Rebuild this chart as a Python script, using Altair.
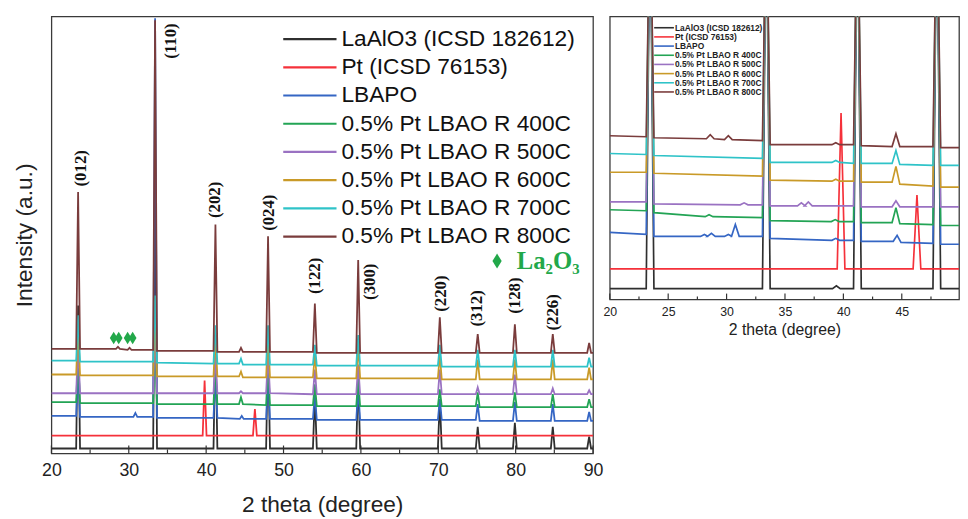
import altair as alt
import pandas as pd

# ---------------- series ----------------
SERIES = ["LaAlO3 (ICSD 182612)", "Pt (ICSD 76153)", "LBAPO",
          "0.5% Pt LBAO R 400C", "0.5% Pt LBAO R 500C", "0.5% Pt LBAO R 600C",
          "0.5% Pt LBAO R 700C", "0.5% Pt LBAO R 800C"]
COLORS = ["#2f2f2f", "#f5313a", "#3566c4", "#23a455", "#9a72c2", "#c99a28",
          "#2fc3c8", "#7a3c3c"]

# ---------- left panel (20-90 deg): peaks as (2theta, top, base_left, base_right) ----------
L_BLACK = [(23.45, 150, 5, 5), (33.4, 300, 5, 5), (41.2, 120, 5, 5), (48.0, 110, 5, 5),
           (54.05, 60, 5, 5), (59.65, 80, 5, 5), (70.2, 55, 5, 5), (75.1, 27, 5, 5),
           (79.9, 31, 5, 5), (84.8, 27, 5, 5), (89.5, 17, 5, 5)]
L_RED = [(39.8, 74, 18, 18), (46.3, 45, 18, 18)]
L_BLUE = [(23.45, 90, 38, 37), (30.85, 41, 37, 37), (33.4, 441, 37, 36), (41.2, 80, 36, 36),
          (44.6, 38, 35, 35), (48.0, 80, 35, 35), (54.05, 60, 35, 34), (59.65, 65, 34, 34),
          (70.2, 55, 34, 34), (75.1, 50, 34, 33), (79.9, 52, 33, 33), (84.8, 50, 33, 33),
          (89.5, 42, 33, 33)]
L_GREEN = [(23.45, 100, 52, 51), (33.4, 110, 51, 50), (41.2, 90, 50, 50), (44.5, 57, 50, 50),
           (48.0, 90, 49, 49), (54.05, 70, 49, 48), (59.65, 75, 48, 48), (70.2, 65, 48, 48),
           (75.1, 62, 48, 47), (79.9, 62, 47, 47), (84.8, 60, 47, 47), (89.5, 55, 47, 47)]
L_PURPLE = [(23.45, 110, 61, 61), (33.4, 130, 61, 61), (41.2, 100, 61, 61), (44.5, 63, 61, 61),
            (48.0, 100, 61, 61), (54.05, 85, 60, 60), (59.65, 90, 60, 60), (70.2, 85, 60, 60),
            (75.1, 67, 60, 60), (79.9, 80, 60, 60), (84.8, 66, 60, 60), (89.5, 64, 60, 60)]
L_GOLD = [(23.45, 130, 80, 79), (33.4, 150, 79, 78), (41.2, 120, 78, 78), (44.5, 83, 78, 77),
          (48.0, 120, 77, 77), (54.05, 100, 77, 76), (59.65, 110, 76, 76), (70.2, 100, 76, 75),
          (75.1, 95, 75, 75), (79.9, 95, 75, 75), (84.8, 95, 75, 75), (89.5, 87, 75, 75)]
L_CYAN = [(23.45, 140, 94, 93), (33.4, 160, 93, 92), (41.2, 130, 91, 91), (44.5, 96, 91, 90),
          (48.0, 130, 90, 90), (54.05, 110, 90, 89), (59.65, 120, 89, 89), (70.2, 110, 89, 88),
          (75.1, 105, 88, 88), (79.9, 105, 88, 88), (84.8, 105, 88, 88), (89.5, 97, 88, 88)]
L_BROWN = [(23.45, 265, 106, 106), (28.6, 108, 106, 106), (30.1, 107, 105, 105),
           (33.4, 439, 105, 104), (41.2, 232, 104, 103), (44.5, 107, 103, 103),
           (48.0, 220, 103, 103), (54.05, 152, 103, 102), (59.65, 196, 102, 102),
           (70.2, 138, 102, 102), (75.1, 121, 102, 102), (79.9, 131, 102, 102),
           (84.8, 121, 102, 102), (89.5, 112, 102, 102)]
L_ENDS = [(5, 5), (18, 18), (38, 33), (52, 47), (61, 60), (80, 75), (94, 88), (106, 102)]

# ---------- right panel (20-50 deg, zoomed) ----------
R_BLACK = [(23.45, 420, 11, 11), (33.4, 420, 11, 11), (39.4, 14, 11, 11), (41.2, 420, 11, 11),
           (48.0, 420, 11, 11)]
R_RED = [(39.8, 189, 31, 31), (46.3, 106, 31, 31)]
R_BLUE = [(23.45, 420, 66, 64), (28.1, 66, 64, 64), (28.7, 67, 64, 64), (30.15, 66, 64, 64),
          (30.75, 76, 64, 64), (33.4, 420, 64, 62), (39.35, 62, 60, 60), (41.2, 420, 60, 59),
          (44.6, 65, 59, 58), (48.0, 420, 57, 56)]
R_GREEN = [(23.45, 420, 90, 88), (28.5, 86, 84, 84), (33.4, 420, 83, 80), (39.3, 81, 79, 79),
           (41.2, 420, 79, 78), (44.5, 93, 78, 77), (48.0, 420, 76, 75)]
R_PURPLE = [(23.45, 420, 99, 97), (31.5, 98, 96, 96), (33.4, 420, 96, 95), (36.4, 98, 95, 95),
            (37.0, 99, 95, 95), (41.2, 420, 95, 94), (44.5, 100, 94, 94), (48.0, 420, 94, 94)]
R_GOLD = [(23.45, 420, 129, 128), (33.4, 420, 125, 121), (39.35, 122, 120, 120),
          (41.2, 420, 120, 119), (44.5, 135, 119, 117), (48.0, 420, 115, 114)]
R_CYAN = [(23.45, 420, 147, 146), (33.4, 420, 143, 139), (39.35, 141, 139, 139),
          (41.2, 420, 138, 138), (44.5, 151, 138, 137), (48.0, 420, 136, 136)]
R_BROWN = [(23.45, 420, 165, 164), (28.6, 167, 163, 163), (30.15, 166, 162, 162),
           (33.4, 420, 161, 157), (39.35, 159, 157, 157), (41.2, 420, 157, 156),
           (44.5, 168, 155, 155), (48.0, 420, 155, 154)]
R_ENDS = [(11, 11), (31, 31), (68, 56), (91, 75), (99, 94), (129, 114), (148, 136), (166, 154)]

# ---------- annotations ----------
HKL_TEXT = ["(012)", "(110)", "(202)", "(024)", "(122)", "(300)", "(220)", "(312)", "(128)", "(226)"]
HKL_X = [23.8, 35.45, 41.2, 48.1, 54.1, 61.25, 70.3, 75.0, 79.9, 84.9]
HKL_Y = [289, 418, 257, 244, 180, 174, 162, 147, 160, 143]
LA2O3_X = [28.05, 28.7, 29.85, 30.5]
LA2O3_Y = [117, 117, 117, 117]
LA2O3_KEY_X = [77.6]
LA2O3_KEY_Y = [195]
LA2O3_LABEL_X = [80.15]
LA2O3_LABEL = ["La\u2082O\u2083"]

L_TICK_MAJOR = [20, 30, 40, 50, 60, 70, 80, 90]
L_TICK_MINOR = [25, 35, 45, 55, 65, 75, 85]
R_TICK_MAJOR = [20, 25, 30, 35, 40, 45]
R_TICK_MINOR = [22.5, 27.5, 32.5, 37.5, 42.5, 47.5]

GREEN_ANN = "#22a84a"
AXIS_COL = "#333333"


def trace(peaks, ends, x0, x1, w):
    xs, ys = [x0], [ends[0]]
    for pos, top, bl, br in peaks:
        xs += [pos - w, pos, pos + w]
        ys += [bl, top, br]
    xs.append(x1)
    ys.append(ends[1])
    return pd.DataFrame({"x": xs, "y": ys, "i": list(range(len(xs)))})


def panel(peak_sets, ends, xdom, ydom, w, width, height, xaxis, yaxis,
          major, minor, major_len, minor_len, lw):
    xs = alt.Scale(domain=xdom, nice=False, zero=False)
    ys = alt.Scale(domain=ydom, nice=False, zero=False)
    layers = []
    for vals, ln in ((major, major_len), (minor, minor_len)):
        layers.append(
            alt.Chart(pd.DataFrame({"t": vals})).mark_rule(color=AXIS_COL, strokeWidth=1.2).encode(
                x=alt.X("t:Q", scale=xs, axis=xaxis),
                y=alt.value(height), y2=alt.value(height - ln)))
    for color, peaks, e in zip(COLORS, peak_sets, ends):
        layers.append(
            alt.Chart(trace(peaks, e, xdom[0], xdom[1], w)).mark_line(
                color=color, strokeWidth=lw, clip=True).encode(
                x=alt.X("x:Q", scale=xs, axis=xaxis),
                y=alt.Y("y:Q", scale=ys, axis=yaxis),
                order="i:Q"))
    return layers, xs, ys


# ---------------- left panel ----------------
LW, LH = 549, 443
x_ax_l = alt.Axis(values=L_TICK_MAJOR, title="2 theta (degree)", ticks=False, domain=False,
                  grid=False, labelFlush=False, labelFontSize=18, labelFont="Liberation Sans",
                  labelColor="#222", labelPadding=8, titleFontSize=23, titleFont="Liberation Sans",
                  titleFontWeight="normal", titleColor="#222", titlePadding=15)
y_ax_l = alt.Axis(title="Intensity (a.u.)", labels=False, ticks=False, domain=False, grid=False,
                  titleFontSize=23, titleFont="Liberation Sans", titleFontWeight="normal",
                  titleColor="#222", titlePadding=15)
left_layers, xsl, ysl = panel(
    [L_BLACK, L_RED, L_BLUE, L_GREEN, L_PURPLE, L_GOLD, L_CYAN, L_BROWN], L_ENDS,
    [20, 90], [0, LH], 0.25, LW, LH, x_ax_l, y_ax_l,
    L_TICK_MAJOR, L_TICK_MINOR, 8, 4, 1.8)

hkl = pd.DataFrame({"x": HKL_X, "y": HKL_Y, "t": HKL_TEXT})
left_layers.append(
    alt.Chart(hkl).mark_text(angle=270, font="Liberation Serif", fontWeight="bold", fontSize=17,
                             color="#111", align="center", baseline="middle").encode(
        x=alt.X("x:Q", scale=xsl, axis=x_ax_l), y=alt.Y("y:Q", scale=ysl, axis=y_ax_l), text="t:N"))

DIAMOND = "M0,-1L0.62,0L0,1L-0.62,0Z"
left_layers.append(
    alt.Chart(pd.DataFrame({"x": LA2O3_X, "y": LA2O3_Y})).mark_point(
        shape=DIAMOND, filled=True, size=160, color=GREEN_ANN, opacity=1).encode(
        x=alt.X("x:Q", scale=xsl, axis=x_ax_l), y=alt.Y("y:Q", scale=ysl, axis=y_ax_l)))
left_layers.append(
    alt.Chart(pd.DataFrame({"x": LA2O3_KEY_X, "y": LA2O3_KEY_Y})).mark_point(
        shape=DIAMOND, filled=True, size=230, color=GREEN_ANN, opacity=1).encode(
        x=alt.X("x:Q", scale=xsl, axis=x_ax_l), y=alt.Y("y:Q", scale=ysl, axis=y_ax_l)))
left_layers.append(
    alt.Chart(pd.DataFrame({"x": LA2O3_LABEL_X, "y": LA2O3_KEY_Y, "t": LA2O3_LABEL})).mark_text(
        font="Liberation Serif", fontWeight="bold", fontSize=25, color=GREEN_ANN,
        align="left", baseline="middle").encode(
        x=alt.X("x:Q", scale=xsl, axis=x_ax_l), y=alt.Y("y:Q", scale=ysl, axis=y_ax_l), text="t:N"))

leg = pd.DataFrame({"name": SERIES, "row": list(range(len(SERIES))), "color": COLORS})
leg_l = alt.Chart(leg).transform_calculate(py="23 + datum.row * 28.6")
left_layers.append(
    leg_l.mark_rule(strokeWidth=2.2).encode(
        x=alt.value(235), x2=alt.value(289), y=alt.Y("py:Q", scale=None),
        color=alt.Color("color:N", scale=None)))
left_layers.append(
    leg_l.mark_text(align="left", baseline="middle", font="Liberation Sans", fontSize=23,
                    color="#111").encode(
        x=alt.value(294), y=alt.Y("py:Q", scale=None), text="name:N"))

left = alt.layer(*left_layers).properties(width=LW, height=LH)

# ---------------- right panel ----------------
RW, RH = 354, 287
x_ax_r = alt.Axis(values=[20, 25, 30, 35, 40, 45], title="2 theta (degree)", ticks=False,
                  domain=False, grid=False, labelFlush=False, labelFontSize=12.5,
                  labelFont="Liberation Sans", labelColor="#222", labelPadding=6,
                  titleFontSize=16, titleFont="Liberation Sans", titleFontWeight="normal",
                  titleColor="#222", titlePadding=4)
right_layers, xsr, ysr = panel(
    [R_BLACK, R_RED, R_BLUE, R_GREEN, R_PURPLE, R_GOLD, R_CYAN, R_BROWN], R_ENDS,
    [20, 49.9], [0, RH], 0.33, RW, RH, x_ax_r, None,
    R_TICK_MAJOR, R_TICK_MINOR, 6, 3, 1.7)

leg_r = alt.Chart(leg).transform_calculate(py="11.5 + datum.row * 9.3")
right_layers.append(
    leg_r.mark_rule(strokeWidth=1.6).encode(
        x=alt.value(45), x2=alt.value(65), y=alt.Y("py:Q", scale=None),
        color=alt.Color("color:N", scale=None)))
right_layers.append(
    leg_r.mark_text(align="left", baseline="middle", font="Liberation Sans", fontSize=8.5,
                    fontWeight="bold", color="#222").encode(
        x=alt.value(66), y=alt.Y("py:Q", scale=None), text="name:N"))

right = alt.layer(*right_layers).properties(width=RW, height=RH)

chart = alt.hconcat(left, right, spacing=17, bounds="flush").properties(
    padding={"left": 5, "top": 4, "right": 0, "bottom": 0}
).configure_view(stroke="#3a3a3a", strokeWidth=1.3).configure_axis(grid=False)

chart.save("out.html", embed_options={"renderer": "svg", "actions": False})
